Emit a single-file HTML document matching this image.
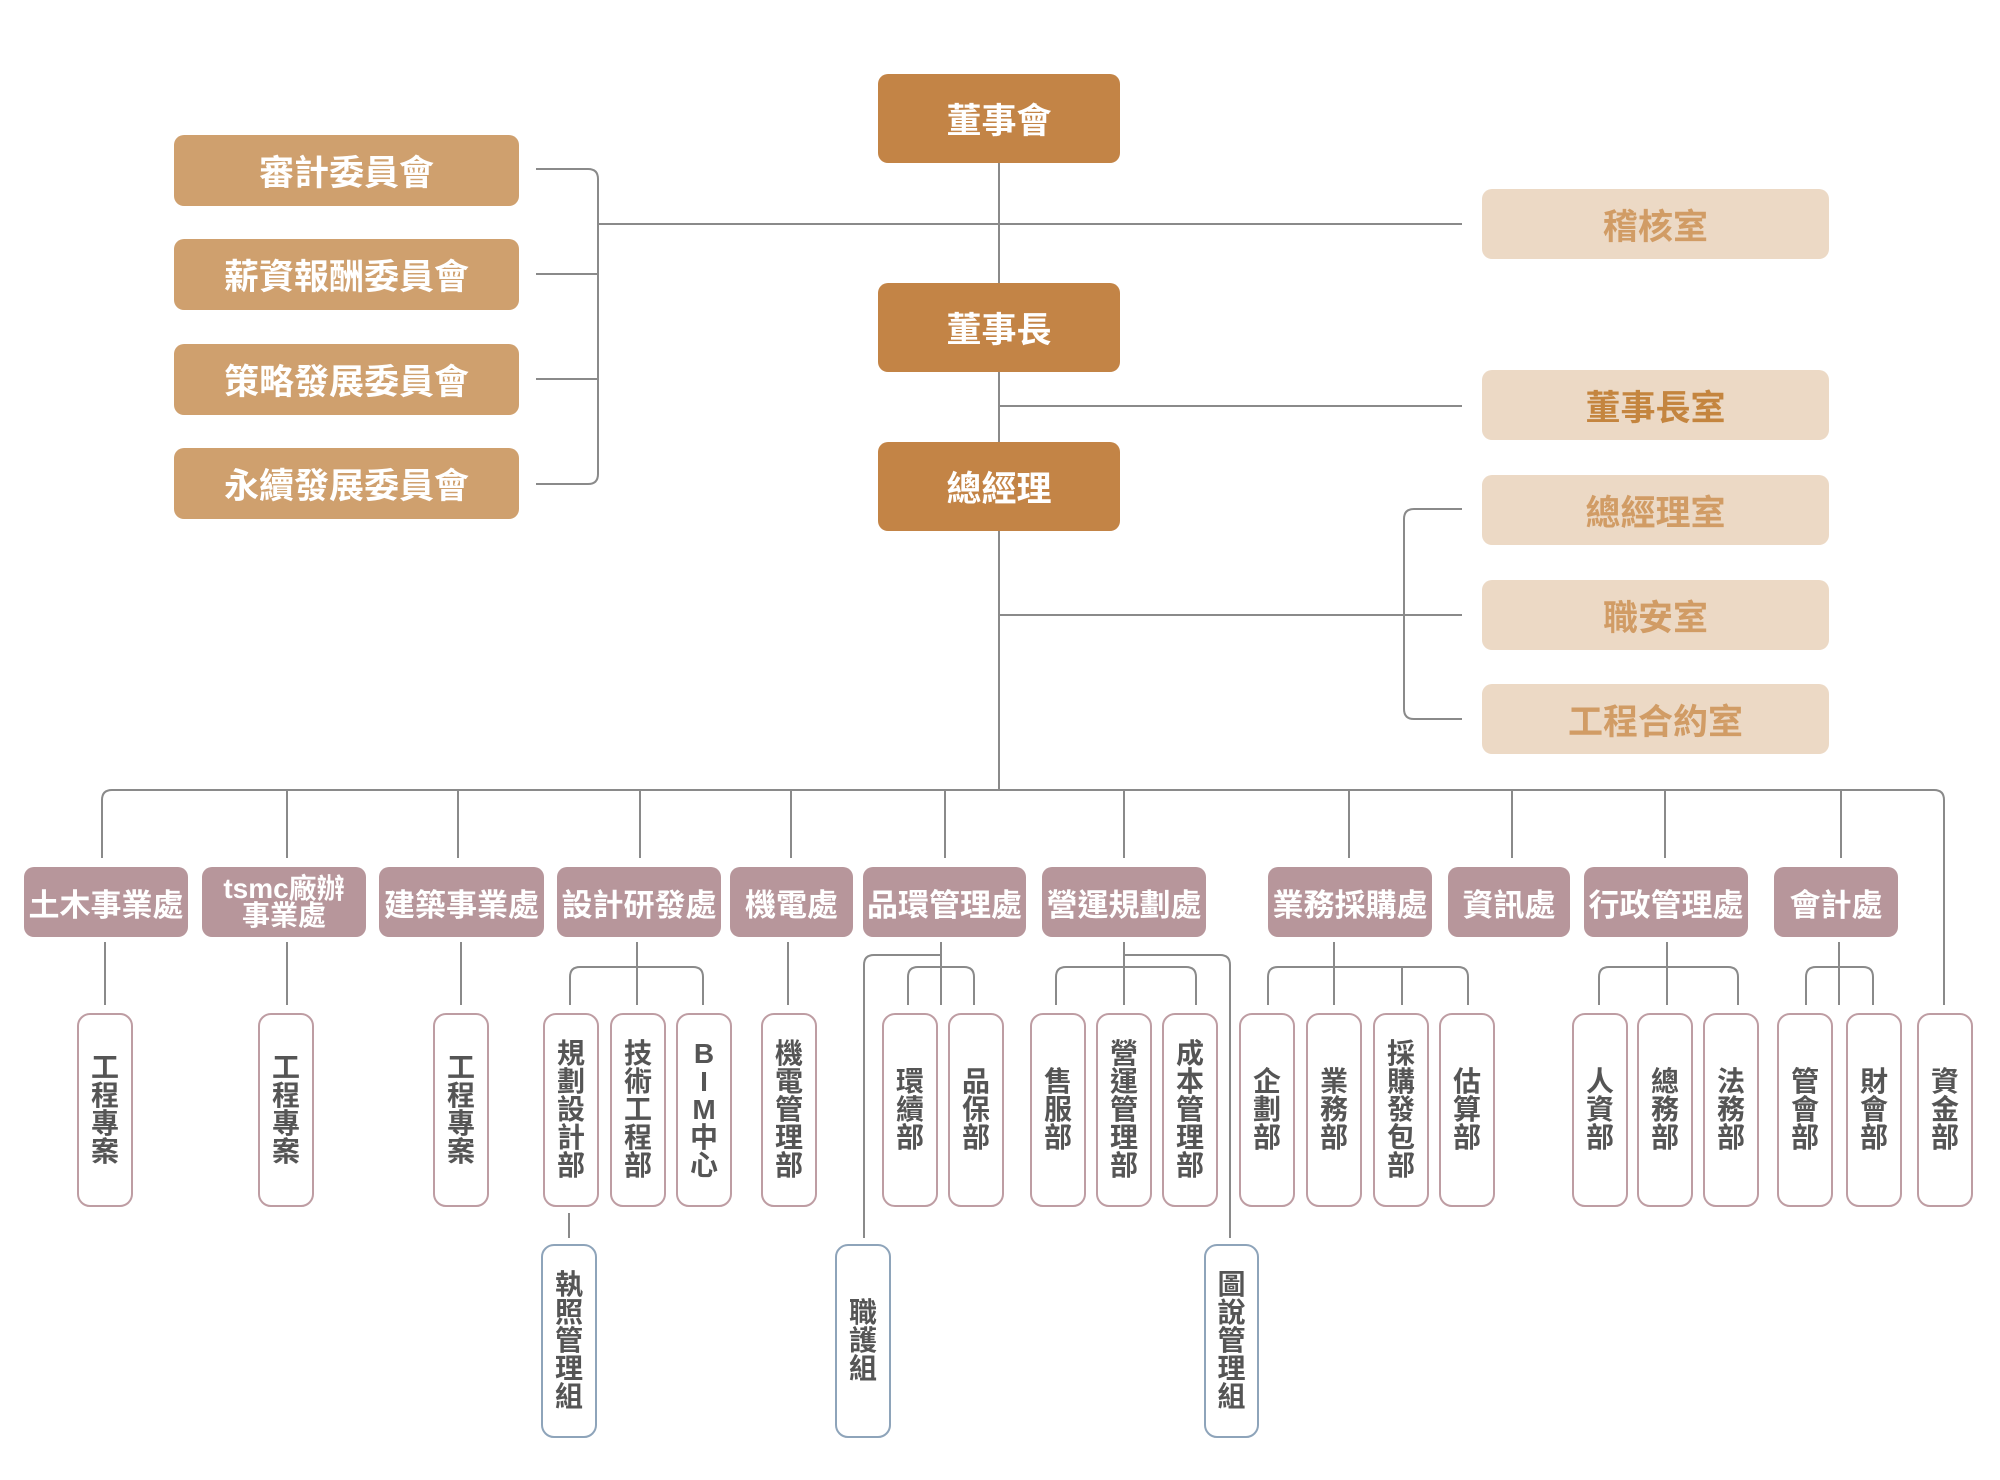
<!DOCTYPE html>
<html>
<head>
<meta charset="utf-8">
<style>
  html,body{margin:0;padding:0;background:#fff;}
  body{width:2000px;height:1480px;position:relative;overflow:hidden;
    font-family:"Liberation Sans","Noto Sans CJK TC","Noto Sans CJK SC",sans-serif;}
  svg.lines{position:absolute;left:0;top:0;}
  .b{position:absolute;display:flex;align-items:center;justify-content:center;box-sizing:border-box;
     font-weight:700;white-space:nowrap;}
  .top{background:#C38446;color:#fff;border-radius:10px;font-size:35px;width:242px;height:89px;left:878px;}
  .com{background:#CFA06E;color:#fff;border-radius:10px;font-size:35px;width:345px;height:71px;left:174px;}
  .rt{background:#ECD9C5;color:#D19C65;border-radius:10px;font-size:35px;width:347px;height:70px;left:1482px;}
  .hd{background:#B7969B;color:#fff;border-radius:10px;font-size:31px;height:70px;top:867px;}
  .sub{position:absolute;top:1013px;height:194px;border:2px solid #BE9DA3;border-radius:13px;box-sizing:border-box;
       display:flex;flex-direction:column;align-items:center;justify-content:center;background:#fff;
       color:#555;font-size:28px;font-weight:700;}
  .sub span{display:block;line-height:28px;height:28px;}
  .sub.g3{top:1244px;border-color:#8EA4BA;}
</style>
</head>
<body>
<svg class="lines" width="2000" height="1480" viewBox="0 0 2000 1480">
  <g fill="none" stroke="#8a8a8a" stroke-width="2">
    <path d="M999,163 V790"/>
    <path d="M536,169 H588 Q598,169 598,179 V474 Q598,484 588,484 H536"/>
    <path d="M536,274 H598"/>
    <path d="M536,379 H598"/>
    <path d="M598,224 H1462"/>
    <path d="M999,406 H1462"/>
    <path d="M999,615 H1462"/>
    <path d="M1462,509 H1414 Q1404,509 1404,519 V709 Q1404,719 1414,719 H1462"/>
    <path d="M102,858 V800 Q102,790 112,790 H1934 Q1944,790 1944,800 V1005"/>
    <path d="M287,790 V858 M458,790 V858 M640,790 V858 M791,790 V858 M945,790 V858 M1124,790 V858 M1349,790 V858 M1512,790 V858 M1665,790 V858 M1841,790 V858"/>
    <path d="M105,942 V1005 M287,942 V1005 M461,942 V1005 M788,942 V1005"/>
    <path d="M570,1005 V977 Q570,967 580,967 H693 Q703,967 703,977 V1005"/>
    <path d="M637,942 V1005"/>
    <path d="M569,1213 V1238"/>
    <path d="M908,1005 V977 Q908,967 918,967 H964 Q974,967 974,977 V1005"/>
    <path d="M941,942 V1005"/>
    <path d="M941,955 H874 Q864,955 864,965 V1238"/>
    <path d="M1056,1005 V977 Q1056,967 1066,967 H1186 Q1196,967 1196,977 V1005"/>
    <path d="M1124,942 V1005"/>
    <path d="M1124,955 H1220 Q1230,955 1230,965 V1238"/>
    <path d="M1268,1005 V977 Q1268,967 1278,967 H1458 Q1468,967 1468,977 V1005"/>
    <path d="M1334,942 V1005 M1402,967 V1005"/>
    <path d="M1599,1005 V977 Q1599,967 1609,967 H1728 Q1738,967 1738,977 V1005"/>
    <path d="M1667,942 V1005"/>
    <path d="M1806,1005 V977 Q1806,967 1816,967 H1863 Q1873,967 1873,977 V1005"/>
    <path d="M1839,942 V1005"/>
  </g>
</svg>

<div class="b top" style="top:74px;">董事會</div>
<div class="b top" style="top:283px;">董事長</div>
<div class="b top" style="top:442px;">總經理</div>

<div class="b com" style="top:135px;">審計委員會</div>
<div class="b com" style="top:239px;">薪資報酬委員會</div>
<div class="b com" style="top:344px;">策略發展委員會</div>
<div class="b com" style="top:448px;">永續發展委員會</div>

<div class="b rt" style="top:189px;">稽核室</div>
<div class="b rt" style="top:370px;color:#C4853F;">董事長室</div>
<div class="b rt" style="top:475px;">總經理室</div>
<div class="b rt" style="top:580px;">職安室</div>
<div class="b rt" style="top:684px;">工程合約室</div>

<div class="b hd" style="left:24px;width:164px;">土木事業處</div>
<div class="b hd" style="left:202px;width:164px;font-size:28px;line-height:27px;text-align:center;flex-direction:column;"><div>tsmc廠辦</div><div>事業處</div></div>
<div class="b hd" style="left:379px;width:165px;">建築事業處</div>
<div class="b hd" style="left:557px;width:164px;">設計研發處</div>
<div class="b hd" style="left:730px;width:123px;">機電處</div>
<div class="b hd" style="left:863px;width:163px;">品環管理處</div>
<div class="b hd" style="left:1042px;width:164px;">營運規劃處</div>
<div class="b hd" style="left:1268px;width:164px;">業務採購處</div>
<div class="b hd" style="left:1448px;width:122px;">資訊處</div>
<div class="b hd" style="left:1584px;width:164px;">行政管理處</div>
<div class="b hd" style="left:1774px;width:124px;">會計處</div>

<div class="sub" style="left:77px;width:56px;"><span>工</span><span>程</span><span>專</span><span>案</span></div>
<div class="sub" style="left:258px;width:56px;"><span>工</span><span>程</span><span>專</span><span>案</span></div>
<div class="sub" style="left:433px;width:56px;"><span>工</span><span>程</span><span>專</span><span>案</span></div>

<div class="sub" style="left:543px;width:56px;"><span>規</span><span>劃</span><span>設</span><span>計</span><span>部</span></div>
<div class="sub" style="left:610px;width:56px;"><span>技</span><span>術</span><span>工</span><span>程</span><span>部</span></div>
<div class="sub" style="left:676px;width:56px;"><span>B</span><span>I</span><span>M</span><span>中</span><span>心</span></div>

<div class="sub" style="left:761px;width:56px;"><span>機</span><span>電</span><span>管</span><span>理</span><span>部</span></div>

<div class="sub" style="left:882px;width:56px;"><span>環</span><span>續</span><span>部</span></div>
<div class="sub" style="left:948px;width:56px;"><span>品</span><span>保</span><span>部</span></div>

<div class="sub" style="left:1030px;width:56px;"><span>售</span><span>服</span><span>部</span></div>
<div class="sub" style="left:1096px;width:56px;"><span>營</span><span>運</span><span>管</span><span>理</span><span>部</span></div>
<div class="sub" style="left:1162px;width:56px;"><span>成</span><span>本</span><span>管</span><span>理</span><span>部</span></div>

<div class="sub" style="left:1239px;width:56px;"><span>企</span><span>劃</span><span>部</span></div>
<div class="sub" style="left:1306px;width:56px;"><span>業</span><span>務</span><span>部</span></div>
<div class="sub" style="left:1373px;width:56px;"><span>採</span><span>購</span><span>發</span><span>包</span><span>部</span></div>
<div class="sub" style="left:1439px;width:56px;"><span>估</span><span>算</span><span>部</span></div>

<div class="sub" style="left:1572px;width:56px;"><span>人</span><span>資</span><span>部</span></div>
<div class="sub" style="left:1637px;width:56px;"><span>總</span><span>務</span><span>部</span></div>
<div class="sub" style="left:1703px;width:56px;"><span>法</span><span>務</span><span>部</span></div>

<div class="sub" style="left:1777px;width:56px;"><span>管</span><span>會</span><span>部</span></div>
<div class="sub" style="left:1846px;width:56px;"><span>財</span><span>會</span><span>部</span></div>
<div class="sub" style="left:1917px;width:56px;"><span>資</span><span>金</span><span>部</span></div>

<div class="sub g3" style="left:541px;width:56px;"><span>執</span><span>照</span><span>管</span><span>理</span><span>組</span></div>
<div class="sub g3" style="left:835px;width:56px;"><span>職</span><span>護</span><span>組</span></div>
<div class="sub g3" style="left:1204px;width:55px;"><span>圖</span><span>說</span><span>管</span><span>理</span><span>組</span></div>

</body>
</html>
